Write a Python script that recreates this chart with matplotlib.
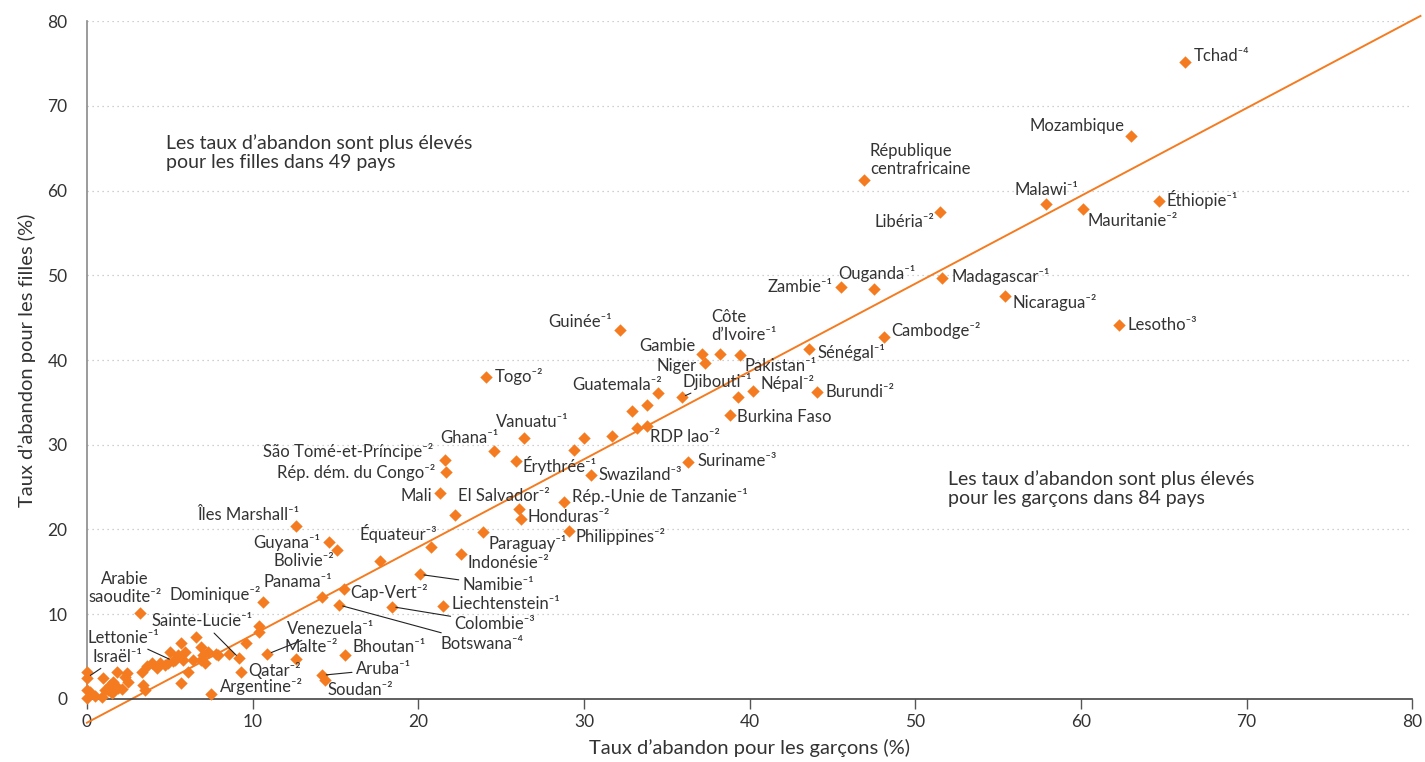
import matplotlib
matplotlib.use("Agg")
import matplotlib.pyplot as plt

plt.rcParams['font.family'] = ['Lato', 'DejaVu Sans']

ORANGE = '#f47b20'
TEXT = '#333333'

# labelled countries: dropout rate for boys / girls (%)
names = ['Tchad⁻⁴', 'Mozambique', 'République\ncentrafricaine', 'Malawi⁻¹',
         'Mauritanie⁻²', 'Éthiopie⁻¹', 'Libéria⁻²', 'Zambie⁻¹', 'Ouganda⁻¹',
         'Madagascar⁻¹', 'Nicaragua⁻²', 'Lesotho⁻³', 'Cambodge⁻²', 'Sénégal⁻¹',
         'Burundi⁻²', 'Népal⁻²', 'Pakistan⁻¹', 'Côte\nd’Ivoire⁻¹', 'Gambie',
         'Niger', 'Djibouti⁻¹', 'Guatemala⁻²', 'Burkina Faso', 'RDP lao⁻²',
         'Togo⁻²', 'Guinée⁻¹', 'Vanuatu⁻¹', 'Ghana⁻¹', 'Érythrée⁻¹',
         'Swaziland⁻³', 'Suriname⁻³', 'São Tomé-et-Príncipe⁻²',
         'Rép. dém. du Congo⁻²', 'Mali', 'El Salvador⁻²',
         'Rép.-Unie de Tanzanie⁻¹', 'Honduras⁻²', 'Philippines⁻²',
         'Paraguay⁻¹', 'Indonésie⁻²', 'Équateur⁻³', 'Îles Marshall⁻¹',
         'Guyana⁻¹', 'Bolivie⁻²', 'Panama⁻¹', 'Cap-Vert⁻²', 'Botswana⁻⁴',
         'Namibie⁻¹', 'Colombie⁻³', 'Liechtenstein⁻¹', 'Dominique⁻²',
         'Venezuela⁻¹', 'Malte⁻²', 'Bhoutan⁻¹', 'Aruba⁻¹', 'Soudan⁻²',
         'Qatar⁻²', 'Argentine⁻²', 'Sainte-Lucie⁻¹', 'Arabie\nsaoudite⁻²',
         'Lettonie⁻¹', 'Israël⁻¹']
boys = [66.3, 63.0, 46.9, 57.9, 60.1, 64.7, 51.5, 45.5, 47.5, 51.6, 55.4,
        62.3, 48.1, 43.6, 44.1, 40.2, 39.4, 38.2, 37.1, 37.3, 35.9, 34.5,
        38.8, 33.8, 24.1, 32.2, 26.4, 24.6, 25.9, 30.4, 36.3, 21.6, 21.7,
        21.3, 26.1, 28.8, 26.2, 29.1, 23.9, 22.6, 20.8, 12.6, 14.6, 15.1,
        14.2, 15.5, 15.2, 20.1, 18.4, 21.5, 10.6, 10.9, 12.6, 15.6, 14.2,
        14.4, 9.3, 7.5, 9.2, 3.2, 5.2, 0.0]
girls = [75.2, 66.4, 61.2, 58.4, 57.8, 58.8, 57.5, 48.6, 48.4, 49.7, 47.6,
         44.1, 42.7, 41.3, 36.2, 36.3, 40.6, 40.7, 40.7, 39.6, 35.6, 36.1,
         33.5, 32.2, 38.0, 43.5, 30.8, 29.3, 28.1, 26.4, 28.0, 28.2, 26.8,
         24.3, 22.4, 23.2, 21.2, 19.8, 19.7, 17.1, 17.9, 20.4, 18.5, 17.6,
         12.0, 13.0, 11.1, 14.7, 10.9, 11.0, 11.4, 5.3, 4.7, 5.2, 2.8,
         2.2, 3.2, 0.6, 4.8, 10.1, 4.5, 2.5]

# countries drawn without a label
other_boys = [22.2, 17.7, 32.9, 33.8, 33.2, 31.7, 30.0, 29.4, 39.3, 10.4,
              10.4, 9.6, 8.6, 7.8, 0.0, 0.0, 0.0, 0.2, 0.5, 0.9, 1.1, 1.0,
              1.4, 1.6, 1.8, 2.1, 2.3, 2.5, 2.4, 1.3, 1.5, 1.9, 3.3, 3.4,
              3.5, 3.6, 3.9, 4.2, 4.4, 4.7, 5.0, 4.9, 5.3, 5.5, 5.7, 5.8,
              5.9, 5.7, 6.1, 6.4, 6.6, 6.9, 7.0, 6.9, 7.1, 7.3, 7.9]
other_girls = [21.7, 16.3, 34.0, 34.7, 32.0, 31.0, 30.8, 29.4, 35.6, 8.6,
               7.9, 6.6, 5.3, 5.3, 3.2, 1.1, 0.1, 0.8, 0.4, 0.2, 1.1, 2.5,
               1.7, 2.0, 3.2, 1.2, 2.6, 2.0, 3.1, 1.1, 0.7, 1.3, 3.2, 1.7,
               1.1, 3.9, 4.2, 3.7, 4.2, 4.0, 5.5, 4.2, 4.6, 5.2, 6.6, 4.6,
               5.5, 1.9, 3.2, 4.6, 7.3, 6.1, 5.2, 4.6, 4.2, 5.5, 5.2]

# trend line
line_boys = [0.0, 80.5]
line_girls = [-2.8, 80.6]

# label placement: pixel offset from the marker and alignment
label_pos = [(9, 6, 'left'), (-6, 10, 'right'), (6, 20, 'left'), (0, 14, 'center'),
             (5, -12, 'left'), (8, 1, 'left'), (-6, -10, 'right'), (-8, 0, 'right'),
             (3, 15, 'center'), (10, 1, 'left'), (8, -7, 'left'), (9, 0, 'left'),
             (8, 7, 'left'), (8, -4, 'left'), (8, 0, 'left'), (8, 8, 'left'),
             (5, -11, 'left'), (-8, 28, 'left'), (-6, 8, 'right'), (-8, -3, 'right'),
             (1, 16, 'left'), (4, 8, 'right'), (7, -2, 'left'), (3, -11, 'left'),
             (9, 0, 'left'), (-8, 8, 'right'), (8, 16, 'center'), (4, 13, 'right'),
             (7, -5, 'left'), (8, 0, 'left'), (9, 1, 'left'), (-11, 9, 'right'),
             (-11, -1, 'right'), (-8, -3, 'right'), (-15, 13, 'center'), (8, 6, 'left'),
             (7, 2, 'left'), (7, -5, 'left'), (6, -11, 'left'), (6, -9, 'left'),
             (6, 14, 'right'), (4, 11, 'right'), (-9, 0, 'right'), (-3, -11, 'right'),
             (10, 15, 'right'), (7, -4, 'left'), (102, -39, 'left'), (43, -11, 'left'),
             (63, -17, 'left'), (8, 2, 'left'), (-2, 8, 'right'), (19, 25, 'left'),
             (-11, 12, 'left'), (7, 8, 'left'), (34, 6, 'left'), (2, -10, 'left'),
             (7, 1, 'left'), (9, 7, 'left'), (-37, 37, 'center'), (-15, 25, 'center'),
             (-50, 23, 'center'), (6, 21, 'left')]
leaders = {'Djibouti⁻¹', 'Botswana⁻⁴', 'Namibie⁻¹', 'Colombie⁻³', 'Venezuela⁻¹',
           'Aruba⁻¹', 'Sainte-Lucie⁻¹', 'Lettonie⁻¹', 'Israël⁻¹'}

fig = plt.figure(figsize=(14.25, 7.62), dpi=100)
ax = fig.add_axes([0.061, 0.0827, 0.930, 0.8897])

ax.set_xlim(0, 80)
ax.set_ylim(0, 80)
ax.set_xticks(range(0, 81, 10))
ax.set_yticks(range(0, 81, 10))
ax.yaxis.grid(True, linestyle=(0, (1, 3)), color='#c0c0c0', linewidth=0.9)
ax.set_axisbelow(True)

for side in ['top', 'right']:
    ax.spines[side].set_visible(False)
ax.spines['left'].set_color('#8a8a8a')
ax.spines['left'].set_linewidth(1.2)
ax.spines['bottom'].set_color('#444444')
ax.spines['bottom'].set_linewidth(1.2)
ax.tick_params(axis='x', length=7, width=1, color='#555555', pad=4,
               labelsize=12.5, labelcolor=TEXT)
ax.tick_params(axis='y', length=0, pad=14, labelsize=12.5, labelcolor=TEXT)

ax.plot(line_boys, line_girls, color=ORANGE, linewidth=1.4, clip_on=False, zorder=2)
ax.scatter(other_boys, other_girls, marker='D', s=40, color=ORANGE,
           linewidths=0, clip_on=False, zorder=3)
ax.scatter(boys, girls, marker='D', s=40, color=ORANGE,
           linewidths=0, clip_on=False, zorder=3)

for name, x, y, (dx, dy, ha) in zip(names, boys, girls, label_pos):
    props = None
    if name in leaders:
        props = dict(arrowstyle='-', color='#222222', lw=0.8, shrinkA=1, shrinkB=3)
    ax.annotate(name, (x, y), xytext=(dx, dy), textcoords='offset pixels',
                ha=ha, va='center', fontsize=12, color=TEXT,
                linespacing=1.15, arrowprops=props, zorder=4)

ax.text(4.8, 64.5, 'Les taux d’abandon sont plus élevés\npour les filles dans 49 pays',
        fontsize=14, color=TEXT, va='center', ha='left', linespacing=1.15)
ax.text(52.0, 24.8, 'Les taux d’abandon sont plus élevés\npour les garçons dans 84 pays',
        fontsize=14, color=TEXT, va='center', ha='left', linespacing=1.15)

ax.set_xlabel('Taux d’abandon pour les garçons (%)', fontsize=14.5, color=TEXT, labelpad=6)
ax.set_ylabel('Taux d’abandon pour les filles (%)', fontsize=14.5, color=TEXT, labelpad=8)

fig.savefig('out.png', dpi=100)
